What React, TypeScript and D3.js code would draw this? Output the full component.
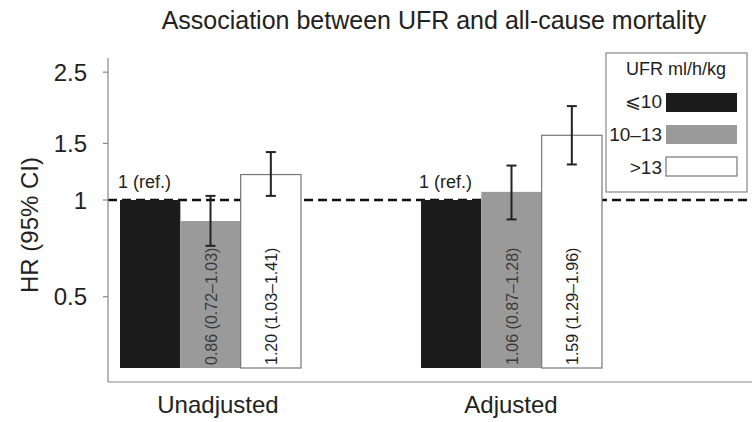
import React from "react";
import * as d3 from "d3";

const groups = ["Unadjusted", "Adjusted"];
const series = ["⩽10", "10–13", ">13"];
const hrUnadjusted = [1, 0.86, 1.2];
const lowUnadjusted = [null, 0.72, 1.03];
const highUnadjusted = [null, 1.03, 1.41];
const hrAdjusted = [1, 1.06, 1.59];
const lowAdjusted = [null, 0.87, 1.29];
const highAdjusted = [null, 1.28, 1.96];
const barLabelsUnadjusted = ["1 (ref.)", "0.86 (0.72–1.03)", "1.20 (1.03–1.41)"];
const barLabelsAdjusted = ["1 (ref.)", "1.06 (0.87–1.28)", "1.59 (1.29–1.96)"];
const yTicks = [0.5, 1, 1.5, 2.5];
const fills = ["#1c1c1c", "#9a9a9a", "#ffffff"];

const FONT = "'Liberation Sans', Arial, Helvetica, sans-serif";

export default function App() {
  const W = 752, H = 422;
  const y = d3.scaleLog().domain([0.3, 1]).range([368, 200]);
  const gx = d3.scalePoint<string>().domain(groups).range([210, 511]);
  const sx = d3.scaleBand<string>().domain(series).range([-90, 91]);
  const axisLeft = 108, axisTop = 58, axisBottom = 382;

  const data = [
    { g: groups[0], hr: hrUnadjusted, lo: lowUnadjusted, hi: highUnadjusted, lab: barLabelsUnadjusted },
    { g: groups[1], hr: hrAdjusted, lo: lowAdjusted, hi: highAdjusted, lab: barLabelsAdjusted },
  ];

  return (
    <svg width={W} height={H} style={{ position: "absolute", left: 0, top: 0, background: "#fff" }} fontFamily={FONT}>
      <rect x={0} y={0} width={W} height={H} fill="#fff" />
      <text x={434} y={29} textAnchor="middle" fontSize={25} fill="#222">
        Association between UFR and all-cause mortality
      </text>
      {/* reference dashed line */}
      <line x1={axisLeft} x2={W} y1={y(1)} y2={y(1)} stroke="#111" strokeWidth={2.5} strokeDasharray="9,5" />
      {/* bars */}
      {data.map((d) =>
        series.map((s, i) => {
          const x0 = gx(d.g)! + sx(s)!;
          const w = sx.bandwidth();
          const top = y(d.hr[i]);
          return (
            <g key={d.g + s}>
              <rect x={x0} y={top} width={w} height={y(0.3) - top} fill={fills[i]}
                stroke={i === 2 ? "#777" : "none"} strokeWidth={1.2} />
            </g>
          );
        })
      )}
      {/* error bars and labels */}
      {data.map((d) =>
        series.map((s, i) => {
          const cx = gx(d.g)! + sx(s)! + sx.bandwidth() / 2;
          const lo = d.lo[i], hi = d.hi[i];
          if (lo == null || hi == null) {
            return (
              <text key={d.g + s + "l"} x={gx(d.g)! + sx(s)! - 2} y={y(1) - 12} fontSize={18} fill="#222">
                {d.lab[i]}
              </text>
            );
          }
          return (
            <g key={d.g + s + "e"}>
              <line x1={cx} x2={cx} y1={y(lo)} y2={y(hi)} stroke="#222" strokeWidth={2} />
              <line x1={cx - 5} x2={cx + 5} y1={y(lo)} y2={y(lo)} stroke="#222" strokeWidth={2} />
              <line x1={cx - 5} x2={cx + 5} y1={y(hi)} y2={y(hi)} stroke="#222" strokeWidth={2} />
              <text transform={`translate(${cx + 6},${y(0.3) - 3}) rotate(-90)`} fontSize={16}
                fill={i === 1 ? "#3a3a3a" : "#222"}>
                {d.lab[i]}
              </text>
            </g>
          );
        })
      )}
      {/* axes */}
      <line x1={axisLeft} x2={axisLeft} y1={axisTop} y2={axisBottom} stroke="#888" strokeWidth={1.2} />
      <line x1={axisLeft} x2={W} y1={axisBottom} y2={axisBottom} stroke="#888" strokeWidth={1.2} />
      {yTicks.map((t) => (
        <g key={t}>
          <line x1={axisLeft - 5} x2={axisLeft} y1={y(t)} y2={y(t)} stroke="#888" strokeWidth={1.2} />
          <text x={87} y={y(t)} dy="0.36em" textAnchor="end" fontSize={24} fill="#222">{t}</text>
        </g>
      ))}
      <text transform={`translate(38,225) rotate(-90)`} textAnchor="middle" fontSize={24} fill="#222">
        HR (95% CI)
      </text>
      {groups.map((g, i) => (
        <text key={g} x={gx(g)! + (i === 0 ? 8 : 0)} y={413} textAnchor="middle" fontSize={24} fill="#222">{g}</text>
      ))}
      {/* legend */}
      <rect x={606} y={53} width={141} height={139} fill="#fff" stroke="#888" strokeWidth={1.2} />
      <text x={676} y={75} textAnchor="middle" fontSize={18} fill="#222">UFR ml/h/kg</text>
      {series.map((s, i) => (
        <g key={s}>
          <text x={662} y={108 + i * 33} textAnchor="end" fontSize={19} fill="#222">{s}</text>
          <rect x={666} y={93 + i * 32} width={71} height={19} fill={fills[i]} stroke={i === 2 ? "#777" : "none"} strokeWidth={1.2} />
        </g>
      ))}
    </svg>
  );
}
